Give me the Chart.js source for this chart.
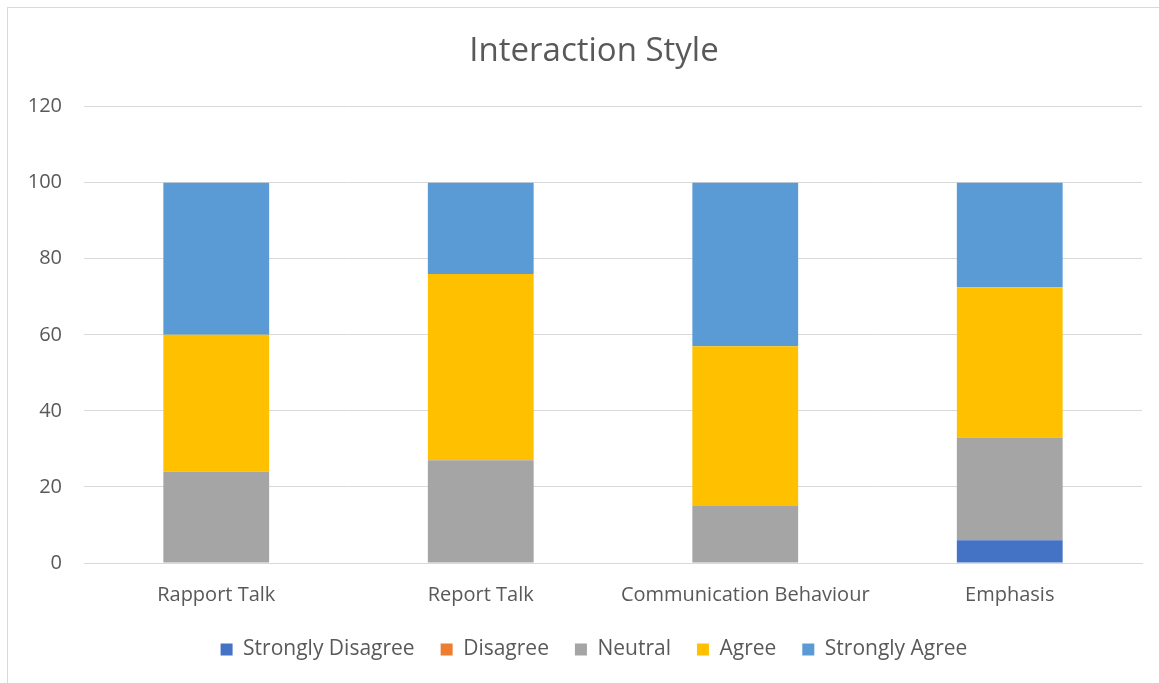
<!DOCTYPE html>
<html>
<head>
<meta charset="utf-8">
<script src="https://cdn.jsdelivr.net/npm/chart.js@4"></script>
<style>
  html, body { margin: 0; padding: 0; background: #fff; overflow: hidden; }
  .frame {
    position: absolute; left: 7px; top: 7px;
    width: 1220px; height: 740px;
    border: 1px solid #d9d9d9;
    box-sizing: border-box;
  }
  .frame canvas { display: block; }
</style>
</head>
<body>
<div class="frame"><canvas id="styleChart" width="1151" height="672"></canvas></div>
<script>
'use strict';

// ── Survey data (percent of respondents) ──────────────────────
const categories       = ['Rapport Talk', 'Report Talk', 'Communication Behaviour', 'Emphasis'];
const stronglyDisagree = [0, 0, 0, 6];
const disagree         = [0, 0, 0, 0];
const neutral          = [24, 27, 15, 27];
const agree            = [36, 49, 42, 39.5];
const stronglyAgree    = [40, 24, 43, 27.5];
const yTicks           = [0, 20, 40, 60, 80, 100, 120];

const FONT = "'Open Sans', sans-serif";
const TEXT = '#595959';

Chart.defaults.font.family = FONT;
Chart.defaults.color       = TEXT;

function series(label, data, color) {
  return {
    label,
    data,
    backgroundColor: color,
    borderWidth: 0,
    categoryPercentage: 0.4,
    barPercentage: 1.0,
  };
}

// title and legend sit a little right of the canvas middle
const nudgeHeader = {
  id: 'nudgeHeader',
  afterLayout(chart) {
    const d = 19;
    [chart.titleBlock, chart.legend].forEach(box => {
      if (!box) return;
      box.left += d;
      box.right += d;
    });
  },
};

new Chart(document.getElementById('styleChart').getContext('2d'), {
  type: 'bar',
  data: {
    labels: categories,
    datasets: [
      series('Strongly Disagree', stronglyDisagree, '#4472c4'),
      series('Disagree',          disagree,         '#ed7d31'),
      series('Neutral',           neutral,          '#a5a5a5'),
      series('Agree',             agree,            '#ffc000'),
      series('Strongly Agree',    stronglyAgree,    '#5b9bd5'),
    ],
  },
  plugins: [nudgeHeader],
  options: {
    responsive: false,
    animation: false,
    layout: { padding: { left: 0, right: 17, top: 20, bottom: 10 } },
    plugins: {
      title: {
        display: true,
        text: 'Interaction Style',
        color: TEXT,
        font: { size: 33, weight: 'normal', family: FONT },
        padding: { top: 4, bottom: 35 },
      },
      legend: {
        position: 'bottom',
        labels: {
          color: TEXT,
          font: { size: 21, family: FONT },
          boxWidth: 12,
          boxHeight: 12,
          padding: 26,
        },
      },
      tooltip: { enabled: false },
    },
    scales: {
      x: {
        stacked: true,
        grid: { display: false },
        border: { color: '#d9d9d9' },
        ticks: { color: TEXT, font: { size: 20, family: FONT }, maxRotation: 0, padding: 12 },
        afterFit(axis) { axis.height = 50; },
      },
      y: {
        stacked: true,
        min: 0,
        max: 120,
        afterBuildTicks(axis) { axis.ticks = yTicks.map(v => ({ value: v })); },
        afterFit(axis) { axis.width = 76; },
        grid: { color: '#d9d9d9', drawTicks: false },
        border: { display: false },
        ticks: { color: TEXT, font: { size: 20, family: FONT }, padding: 22 },
      },
    },
  },
});
</script>
</body>
</html>
